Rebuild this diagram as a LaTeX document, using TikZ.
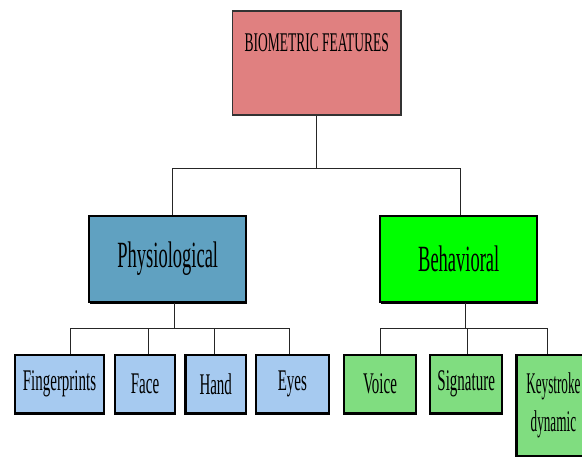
\documentclass[tikz,border=0pt]{standalone}
\usepackage{fontspec}
\newfontfamily\condfont[FakeStretch=0.5]{Liberation Serif}
\newfontfamily\narrowfont[FakeStretch=0.44]{Liberation Serif}
\usepackage{xcolor}
\usetikzlibrary{positioning,shadows}
\definecolor{toppink}{RGB}{224,128,128}
\definecolor{physblue}{RGB}{96,161,193}
\definecolor{behgreen}{RGB}{0,255,0}
\definecolor{leafblue}{RGB}{166,202,240}
\definecolor{leafgreen}{RGB}{128,221,128}

\begin{document}
\begin{tikzpicture}[x=1pt, y=1pt, inner sep=0pt, text centered]
  % Styles
  \tikzstyle{root}=[rectangle, draw=black!80, line width=1.5pt, fill=toppink, minimum width=168.5pt, text height=41pt, text depth=63pt, font=\condfont\fontsize{27}{32}\selectfont, drop shadow={shadow xshift=0.4pt, shadow yshift=-1.2pt, fill=black!80, opacity=1}]
  \tikzstyle{branch}=[rectangle, draw=black, line width=2.2pt, minimum width=157pt, minimum height=86pt, font=\condfont\fontsize{37}{44}\selectfont, drop shadow={shadow xshift=0.5pt, shadow yshift=-2pt, fill=black, opacity=1}]
  \tikzstyle{leaf}=[rectangle, draw=black, line width=2.2pt, minimum height=58.5pt, align=center, font=\condfont\fontsize{30}{38}\selectfont, drop shadow={shadow xshift=0.5pt, shadow yshift=-2pt, fill=black, opacity=1}]
  \tikzstyle{link}=[draw=black!85, line width=1pt]

  \useasboundingbox (0,0) rectangle (582,457);
  \clip (0,0) rectangle (582,457);

  % Root
  \node[root] (bio) at (316.75,394) {BIOMETRIC FEATURES};
  % Branches
  \node[branch, fill=physblue] (phys) at (167.75,198) {Physiological};
  \node[branch, fill=behgreen] (beh) at (458.75,198) {Behavioral};
  % Physiological leaves
  \node[leaf, fill=leafblue, minimum width=89pt] (fp) at (59.5,72.75) {Fingerprints};
  \node[leaf, fill=leafblue, minimum width=60.3pt, right=8.7pt of fp] (face) {Face};
  \node[leaf, fill=leafblue, minimum width=60.7pt, right=8pt of face] (hand) {Hand};
  \node[leaf, fill=leafblue, minimum width=72.5pt, right=7.8pt of hand] (eyes) {Eyes};
  % Behavioral leaves
  \node[leaf, fill=leafgreen, minimum width=72pt] (voice) at (380,72.75) {Voice};
  \node[leaf, fill=leafgreen, minimum width=72pt, right=12pt of voice] (sig) {Signature};
  \node[leaf, fill=leafgreen, minimum width=74pt, minimum height=101pt, font=\narrowfont\fontsize{30}{38}\selectfont, right=12pt of sig.north east, anchor=north west] (key) {Keystroke\\dynamic};

  % Connectors
  \coordinate (topbus) at (316.75,288);
  \coordinate (physbus) at (174.75,128);
  \coordinate (behbus) at (465.75,128);
  \draw[link] (bio.south) -- (topbus);
  \draw[link] (topbus) -| ([xshift=4.5pt]phys.north);
  \draw[link] (topbus) -| ([xshift=1.25pt]beh.north);
  \draw[link] ([xshift=7pt]phys.south) -- (physbus);
  \draw[link] (physbus) -| ([xshift=11.2pt]fp.north);
  \draw[link] (physbus) -| ([xshift=3.15pt]face.north);
  \draw[link] (physbus) -| ([xshift=-1.35pt]hand.north);
  \draw[link] (physbus) -| ([xshift=-3pt]eyes.north);
  \draw[link] ([xshift=7pt]beh.south) -- (behbus);
  \draw[link] (behbus) -| ([xshift=0.7pt]voice.north);
  \draw[link] (behbus) -| ([xshift=1pt]sig.north);
  \draw[link] (behbus) -| ([xshift=-6pt]key.north);
\end{tikzpicture}
\end{document}
